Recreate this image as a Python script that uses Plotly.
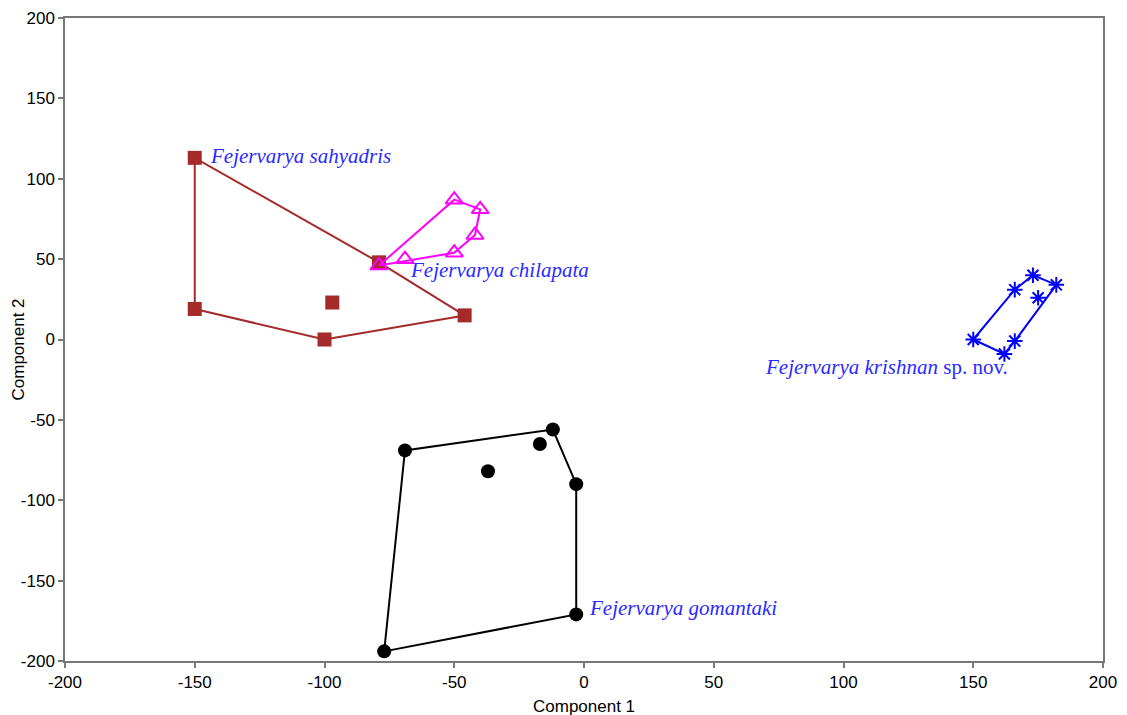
import plotly.graph_objects as go

# --- data ---
sahyadris_x = [-150, -79, -46, -100, -150, -97]
sahyadris_y = [113, 48, 15, 0, 19, 23]

chilapata_x = [-79, -69, -50, -42, -40, -50]
chilapata_y = [46, 50, 54, 65, 81, 87]

krishnan_x = [150, 162, 166, 182, 173, 166, 175]
krishnan_y = [0, -9, -1, 34, 40, 31, 26]

gomantaki_x = [-77, -69, -12, -17, -37, -3, -3]
gomantaki_y = [-194, -69, -56, -65, -82, -90, -171]

label_text = ["<i>Fejervarya sahyadris</i>", "<i>Fejervarya chilapata</i>",
              "<i>Fejervarya krishnan</i> sp. nov.", "<i>Fejervarya gomantaki</i>"]
label_x = [-145, -68, 69, 1]
label_y = [114, 43, -17, -167]

tick_vals = [-200, -150, -100, -50, 0, 50, 100, 150, 200]
tick_text = ["-200", "-150", "-100", "-50", "0", "50", "100", "150", "200"]


def hull(xs, ys):
    pts = sorted(set(zip(xs, ys)))
    def cross(o, a, b):
        return (a[0]-o[0])*(b[1]-o[1]) - (a[1]-o[1])*(b[0]-o[0])
    lower, upper = [], []
    for p in pts:
        while len(lower) >= 2 and cross(lower[-2], lower[-1], p) <= 0:
            lower.pop()
        lower.append(p)
    for p in reversed(pts):
        while len(upper) >= 2 and cross(upper[-2], upper[-1], p) <= 0:
            upper.pop()
        upper.append(p)
    h = lower[:-1] + upper[:-1]
    h.append(h[0])
    return [p[0] for p in h], [p[1] for p in h]


groups = [
    (sahyadris_x, sahyadris_y, "#a52a2a", dict(symbol="square", size=14, color="#a52a2a")),
    (chilapata_x, chilapata_y, "#ff00ff", dict(symbol="triangle-up-open", size=15, color="#ff00ff",
                                                 line=dict(width=2, color="#ff00ff"))),
    (krishnan_x, krishnan_y, "#0000ff", dict(symbol="asterisk-open", size=13, color="#0000ff",
                                               line=dict(width=2, color="#0000ff"))),
    (gomantaki_x, gomantaki_y, "#000000", dict(symbol="circle", size=14, color="#000000")),
]

fig = go.Figure()
for xs, ys, col, mk in groups:
    hx, hy = hull(xs, ys)
    fig.add_trace(go.Scatter(x=hx, y=hy, mode="lines", line=dict(color=col, width=2),
                             showlegend=False, hoverinfo="skip"))
    fig.add_trace(go.Scatter(x=xs, y=ys, mode="markers", marker=mk, showlegend=False))

for t, x, y in zip(label_text, label_x, label_y):
    fig.add_annotation(x=x, y=y, text=t, showarrow=False, xanchor="left", yanchor="middle",
                       font=dict(family="Liberation Serif", size=21, color="#2a2aff"))

# axis titles as annotations
title_font = dict(family="Liberation Sans", size=17, color="#000000")
fig.add_annotation(x=0.5, y=0, xref="paper", yref="paper", text="Component 1",
                   showarrow=False, xanchor="center", yanchor="top", yshift=-34,
                   font=title_font)
fig.add_annotation(x=0, y=0.5, xref="paper", yref="paper", text="Component 2",
                   showarrow=False, xanchor="center", yanchor="middle", textangle=-90,
                   xshift=-47, yshift=-10, font=title_font)

axis_common = dict(range=[-200, 200], tickvals=tick_vals, ticktext=tick_text,
                   showgrid=False, zeroline=False, automargin=False,
                   showline=True, linecolor="#777777", linewidth=1.5, mirror=True,
                   ticks="outside", ticklen=5, tickcolor="#777777", tickwidth=1.5,
                   tickfont=dict(family="Liberation Sans", size=17, color="#000000"))

fig.update_layout(
    width=1127, height=715,
    margin=dict(l=65, r=24, t=18, b=54),
    paper_bgcolor="white", plot_bgcolor="white",
    xaxis=dict(axis_common),
    yaxis=dict(axis_common),
)

fig.write_html("out.html", config={"displayModeBar": False},
               post_script="document.body.style.margin='0';document.body.style.overflow='hidden';")
